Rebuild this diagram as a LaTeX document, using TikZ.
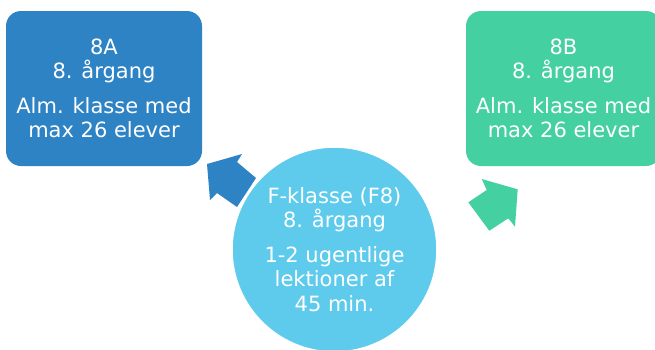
\documentclass[tikz,border=0pt]{standalone}
\usepackage{fontspec}
\setmainfont{DejaVu Sans}
\definecolor{boxblue}{RGB}{46,131,196}
\definecolor{boxgreen}{RGB}{69,208,161}
\definecolor{circblue}{RGB}{94,203,237}
\begin{document}
\begin{tikzpicture}[x=1pt,y=-1pt,
  lbl/.style={text=white,align=center,font=\fontsize{21}{24.5}\selectfont},
  classbox/.style={lbl,rounded corners=15pt,minimum width=196pt,minimum height=155pt,inner sep=0pt},
  fclass/.style={lbl,circle,fill=circblue,draw=white,line width=1.5pt,minimum size=205pt,inner sep=0pt}]
\useasboundingbox (0,0) rectangle (655,349);
% block arrows (drawn first, behind the circle)
\fill[boxblue] (207,164) -- (242,154) -- (237,162) -- (256,178) -- (237,207) -- (217,193) -- (210,200) -- cycle;
\fill[boxgreen] (517.7,189.3) -- (481.7,179) -- (486.7,190) -- (468.3,202.3) -- (489.3,230.7) -- (508.3,218.3) -- (515,226.7) -- cycle;
\node[classbox,fill=boxblue] (a) at (104,88.5) {8A\\8. årgang\\[10pt]Alm. klasse med\\max 26 elever};
\node[classbox,fill=boxgreen,minimum width=195pt] (b) at (563.5,88.5) {8B\\8. årgang\\[10pt]Alm. klasse med\\max 26 elever};
\node[fclass] (f) at (334.5,249.5) {F-klasse (F8)\\8. årgang\\[10pt]1-2 ugentlige\\lektioner af\\45 min.};
\end{tikzpicture}
\end{document}
